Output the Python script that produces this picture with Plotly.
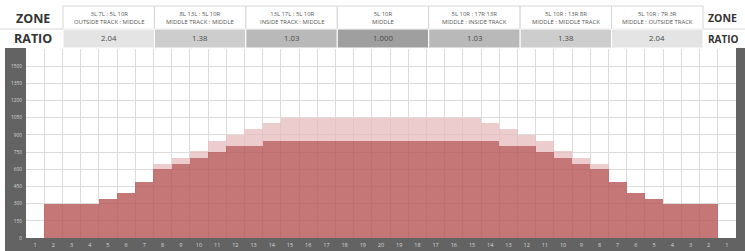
import plotly.graph_objects as go

# ---------------- data ----------------
x_labels = ["1", "2", "3", "4", "5", "6", "7", "8", "9", "10", "11", "12", "13",
            "14", "15", "16", "17", "18", "19", "20", "19", "18", "17", "16", "15",
            "14", "13", "12", "11", "10", "9", "8", "7", "6", "5", "4", "3", "2", "1"]
inner_values = [0, 300, 300, 300, 340, 390, 490, 600, 650, 700, 750, 800, 800,
                850, 850, 850, 850, 850, 850, 850, 850, 850, 850, 850, 850,
                850, 800, 800, 750, 700, 650, 600, 490, 390, 340, 300, 300, 300, 0]
outer_values = [0, 300, 300, 300, 340, 390, 490, 650, 700, 760, 850, 900, 950,
                1000, 1050, 1050, 1050, 1050, 1050, 1050, 1050, 1050, 1050, 1050, 1050,
                1000, 950, 900, 850, 760, 700, 650, 490, 390, 340, 300, 300, 300, 0]
y_ticks = [0, 150, 300, 450, 600, 750, 900, 1050, 1200, 1350, 1500]

zone_top = ["3L 7L : 5L 10R", "8L 13L : 5L 10R", "13L 17L : 5L 10R", "5L 10R",
            "5L 10R : 17R 13R", "5L 10R : 13R 8R", "5L 10R : 7R 3R"]
zone_bottom = ["OUTSIDE TRACK : MIDDLE", "MIDDLE TRACK : MIDDLE", "INSIDE TRACK : MIDDLE",
               "MIDDLE", "MIDDLE : INSIDE TRACK", "MIDDLE : MIDDLE TRACK", "MIDDLE : OUTSIDE TRACK"]
ratios = ["2.04", "1.38", "1.03", "1.000", "1.03", "1.38", "2.04"]
ratio_colors = ["#e4e4e4", "#cdcdcd", "#b9b9b9", "#9f9f9f", "#b9b9b9", "#cdcdcd", "#e4e4e4"]

# ---------------- geometry helpers ----------------
W, H = 745, 251
L, R, T, B = 26, 9, 49, 13
PW, PH = W - L - R, H - T - B


def px(x):
    return (x - L) / PW


def py(y):
    return (H - B - y) / PH


xs = list(range(len(x_labels)))
extra = [o - i for o, i in zip(outer_values, inner_values)]

fig = go.Figure()
fig.add_trace(go.Bar(x=xs, y=inner_values, width=1.0,
                     marker=dict(color="rgba(182,84,84,0.8)", line=dict(width=0)),
                     hoverinfo="skip"))
fig.add_trace(go.Bar(x=xs, y=extra, width=1.0,
                     marker=dict(color="rgba(232,190,192,0.78)", line=dict(width=0)),
                     hoverinfo="skip"))

shapes = []
dark = "#636363"
# dark frame strips
shapes.append(dict(type="rect", xref="paper", yref="paper", x0=px(5), x1=px(L), y0=py(H + 5), y1=py(48),
                   fillcolor=dark, line=dict(width=0), layer="below"))
shapes.append(dict(type="rect", xref="paper", yref="paper", x0=px(5), x1=px(W + 5), y0=py(H + 5), y1=0,
                   fillcolor=dark, line=dict(width=0), layer="below"))
shapes.append(dict(type="rect", xref="paper", yref="paper", x0=1, x1=px(W + 5), y0=py(H + 5), y1=py(48),
                   fillcolor=dark, line=dict(width=0), layer="below"))

annotations = []
# header table
cell_x0 = 63
cell_w = (703 - 63) / 7
row1_top, row_mid, row2_bot = 6, 29, 48
border = "#d6d6d6"
for i in range(7):
    x0 = cell_x0 + i * cell_w
    x1 = x0 + cell_w
    shapes.append(dict(type="rect", xref="paper", yref="paper", x0=px(x0), x1=px(x1),
                       y0=py(row_mid), y1=py(row1_top), fillcolor="white",
                       line=dict(color=border, width=1)))
    shapes.append(dict(type="rect", xref="paper", yref="paper", x0=px(x0), x1=px(x1),
                       y0=py(row2_bot), y1=py(row_mid), fillcolor=ratio_colors[i],
                       line=dict(color="white", width=1)))
    annotations.append(dict(xref="paper", yref="paper", x=px((x0 + x1) / 2), y=py((row1_top + row_mid) / 2 + 0.5),
                            text=zone_top[i] + "<br>" + zone_bottom[i], showarrow=False,
                            font=dict(family="Open Sans", size=5.9, color="#555555"),
                            xanchor="center", yanchor="middle"))
    annotations.append(dict(xref="paper", yref="paper", x=px((x0 + x1) / 2), y=py((row_mid + row2_bot) / 2),
                            text=ratios[i], showarrow=False,
                            font=dict(family="Open Sans", size=7.8, color="#4a4a4a"),
                            xanchor="center", yanchor="middle"))

# left header labels
annotations.append(dict(xref="paper", yref="paper", x=px(33), y=py(18), text="<b>ZONE</b>",
                        showarrow=False, font=dict(family="Open Sans", size=12.5, color="#333333"),
                        xanchor="center", yanchor="middle"))
annotations.append(dict(xref="paper", yref="paper", x=px(33), y=py(39), text="<b>RATIO</b>",
                        showarrow=False, font=dict(family="Open Sans", size=12.5, color="#333333"),
                        xanchor="center", yanchor="middle"))
# right header labels (narrow space at the edge)
annotations.append(dict(xref="paper", yref="paper", x=px(706), y=py(18), text="<b>ZONE</b>",
                        showarrow=False, font=dict(family="Open Sans", size=10.5, color="#333333"),
                        xanchor="left", yanchor="middle"))
annotations.append(dict(xref="paper", yref="paper", x=px(706), y=py(39), text="<b>RATIO</b>",
                        showarrow=False, font=dict(family="Open Sans", size=10, color="#333333"),
                        xanchor="left", yanchor="middle"))

# row separator line on side cells
shapes.append(dict(type="line", xref="paper", yref="paper", x0=px(0), x1=px(63), y0=py(row_mid), y1=py(row_mid),
                   line=dict(color=border, width=1)))
shapes.append(dict(type="line", xref="paper", yref="paper", x0=px(703), x1=px(W), y0=py(row_mid), y1=py(row_mid),
                   line=dict(color=border, width=1)))

grid = "#dcdcdc"
fig.update_layout(
    width=W, height=H,
    margin=dict(l=L, r=R, t=T, b=B, pad=0, autoexpand=False),
    paper_bgcolor="white", plot_bgcolor="white",
    barmode="stack", bargap=0, showlegend=False,
    shapes=shapes, annotations=annotations,
    xaxis=dict(range=[-0.5, len(xs) - 0.5], tickvals=xs, ticktext=x_labels, automargin=False,
               showgrid=False, zeroline=False, showline=False, ticks="", ticklabelstandoff=2,
               tickfont=dict(family="Open Sans", size=5.5, color="#d8d8d8"),
               minor=dict(tickvals=[k - 0.5 for k in range(len(xs) + 1)], showgrid=True,
                          gridcolor=grid, gridwidth=1, ticks=""),
               fixedrange=True),
    yaxis=dict(range=[0, 1650], tickvals=y_ticks, showgrid=True, gridcolor=grid, gridwidth=1,
               automargin=False, zeroline=False, showline=False, ticks="", ticklabelstandoff=3,
               tickfont=dict(family="Open Sans", size=4.8, color="#d8d8d8"), fixedrange=True),
    yaxis2=dict(range=[0, 1650], tickvals=y_ticks, overlaying="y", side="right", showgrid=False,
                automargin=False, zeroline=False, showline=False, ticks="", ticklabelstandoff=1,
                tickfont=dict(family="Open Sans", size=3.6, color="#d8d8d8"), fixedrange=True),
)

fig.write_html("out.html", config={"displayModeBar": False},
               post_script="document.body.style.margin='0px';")
